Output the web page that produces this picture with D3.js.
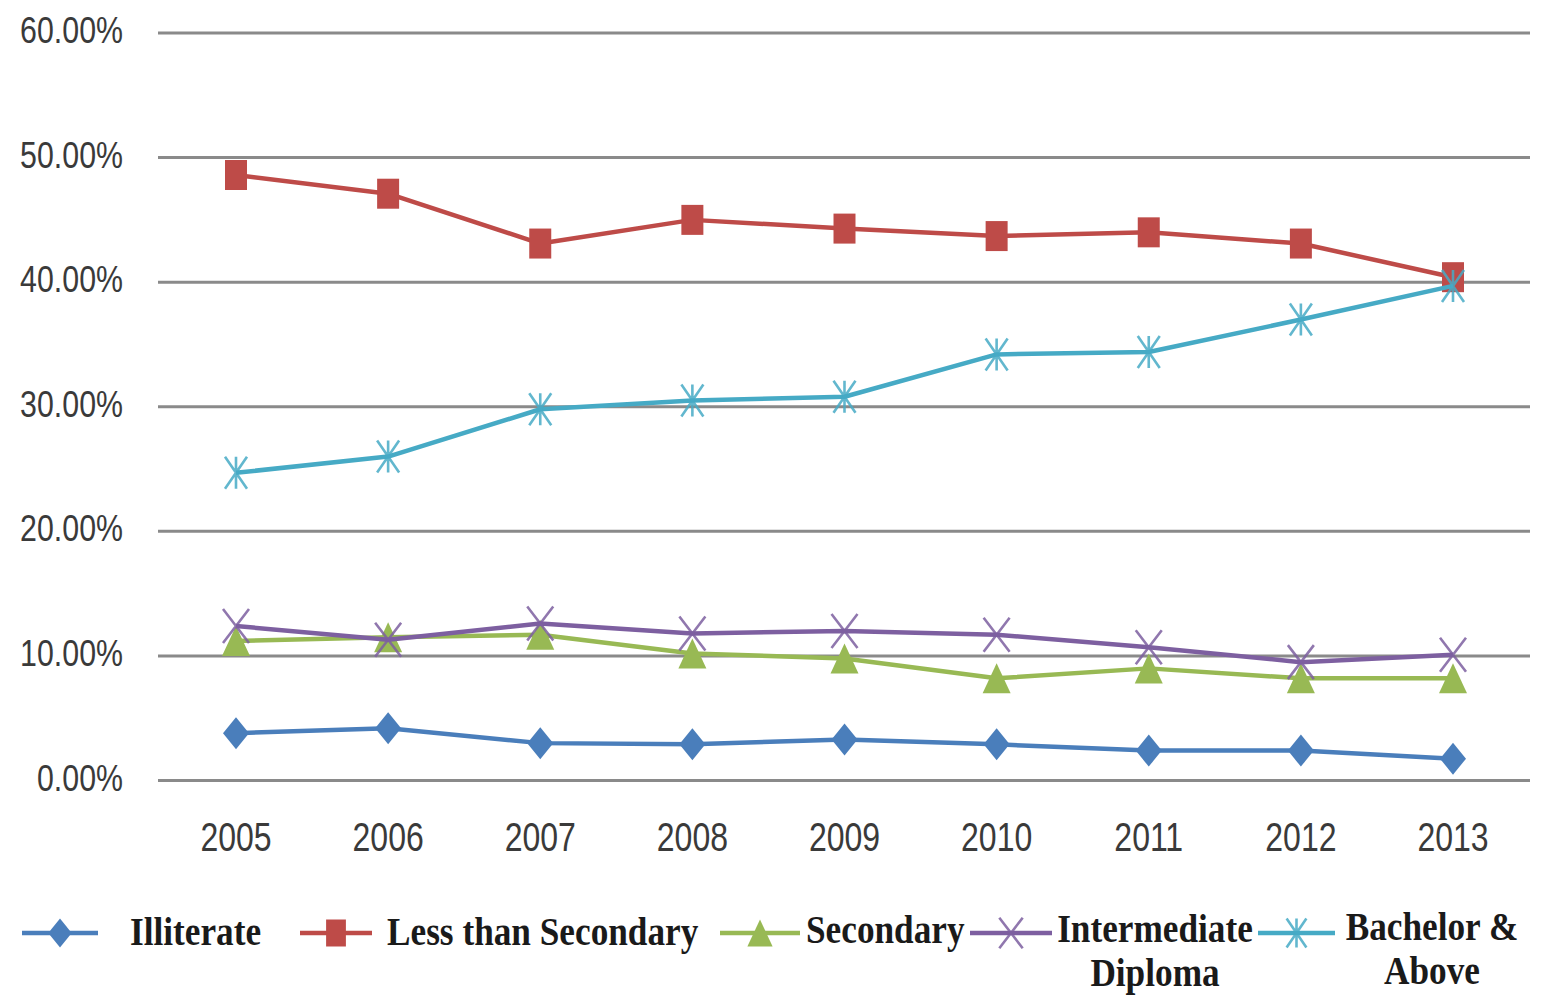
<!DOCTYPE html>
<html><head><meta charset="utf-8">
<script src="https://cdn.jsdelivr.net/npm/d3@7"></script>
<style>body{margin:0;background:#fff}svg{display:block}</style>
</head><body>
<svg id="c" width="1541" height="996"></svg>
<script>
const years = ["2005","2006","2007","2008","2009","2010","2011","2012","2013"];
const yTicks = [0, 0.1, 0.2, 0.3, 0.4, 0.5, 0.6];
const seriesNames = ["Illiterate","Less than Secondary","Secondary","Intermediate Diploma","Bachelor & Above"];
const illiterate    = [0.038,0.042,0.030,0.029,0.033,0.029,0.024,0.024,0.0175];
const lessThanSec   = [0.486,0.471,0.431,0.450,0.443,0.437,0.440,0.431,0.404];
const secondary     = [0.112,0.115,0.117,0.102,0.098,0.082,0.090,0.082,0.082];
const intermediate  = [0.124,0.113,0.126,0.118,0.120,0.117,0.107,0.095,0.101];
const bachelor      = [0.247,0.260,0.298,0.305,0.308,0.342,0.344,0.370,0.397];

const colors = ["#4a7ebb","#be4b48","#98b954","#7d5fa0","#46aac5"];
const markerTypes = ["diamond","square","triangle","x","star"];
const values = [illiterate, lessThanSec, secondary, intermediate, bachelor];

const svg = d3.select("#c");
const x = d3.scalePoint().domain(years).range([236, 1453]);
const y = d3.scaleLinear().domain([0, 0.6]).range([780.5, 33]);
const plotL = 158, plotR = 1530;

svg.append("g").selectAll("line").data(yTicks).join("line")
  .attr("x1", plotL).attr("x2", plotR)
  .attr("y1", d => y(d)).attr("y2", d => y(d))
  .attr("stroke", "#8a8a8a").attr("stroke-width", 3);

const fmt = d3.format(".2%");
svg.append("g").selectAll("text").data(yTicks).join("text")
  .attr("transform", d => `translate(123,${y(d) + 10}) scale(0.82,1)`)
  .attr("text-anchor", "end")
  .attr("font-family", "Liberation Sans, Arial, sans-serif")
  .attr("font-size", 37).attr("fill", "#3a3a3a")
  .text(d => fmt(d));

svg.append("g").selectAll("text").data(years).join("text")
  .attr("transform", d => `translate(${x(d)},851) scale(0.8,1)`)
  .attr("text-anchor", "middle")
  .attr("font-family", "Liberation Sans, Arial, sans-serif")
  .attr("font-size", 40).attr("fill", "#3a3a3a")
  .text(d => d);

function markerPath(type, s) {
  const p = d3.path();
  if (type === "diamond") {
    const w = 13*s, h = 16*s;
    p.moveTo(0,-h); p.lineTo(w,0); p.lineTo(0,h); p.lineTo(-w,0); p.closePath();
  } else if (type === "square") {
    const w = 11*s, h = 15*s;
    p.rect(-w,-h,2*w,2*h);
  } else if (type === "triangle") {
    const w = 14*s, h = 15*s;
    p.moveTo(0,-h); p.lineTo(w,h); p.lineTo(-w,h); p.closePath();
  } else if (type === "x") {
    const w = 13*s, h = 17*s;
    p.moveTo(-w,-h); p.lineTo(w,h); p.moveTo(w,-h); p.lineTo(-w,h);
  } else if (type === "star") {
    const w = 11*s, h = 16*s;
    p.moveTo(-w,-h); p.lineTo(w,h); p.moveTo(w,-h); p.lineTo(-w,h);
    p.moveTo(0,-h); p.lineTo(0,h);
  }
  return p.toString();
}
function drawMarker(g, type, color, s) {
  const path = g.append("path").attr("d", markerPath(type, s));
  if (type === "x" || type === "star") {
    path.attr("fill","none").attr("stroke", color).attr("stroke-width", 2.6).attr("stroke-opacity", 0.85);
  } else {
    path.attr("fill", color).attr("stroke","none");
  }
}

const line = d3.line().x((d,i) => x(years[i])).y(d => y(d));
values.forEach((vals, si) => {
  const g = svg.append("g");
  g.append("path").datum(vals).attr("d", line)
    .attr("fill","none").attr("stroke", colors[si]).attr("stroke-width", 4.5)
    .attr("stroke-linejoin","round");
  vals.forEach((v, i) => {
    const mg = g.append("g").attr("transform", `translate(${x(years[i])},${y(v)})`);
    drawMarker(mg, markerTypes[si], colors[si], 1);
  });
});

const legend = [
  {x1:22, x2:98, tx:130, anchor:"start", lines:["Illiterate"], by:945},
  {x1:300, x2:372, tx:387, anchor:"start", lines:["Less than Secondary"], by:945},
  {x1:720, x2:800, tx:806, anchor:"start", lines:["Secondary"], by:943},
  {x1:970, x2:1052, tx:1155, anchor:"middle", lines:["Intermediate","Diploma"], by:942},
  {x1:1258, x2:1335, tx:1432, anchor:"middle", lines:["Bachelor &","Above"], by:940}
];
legend.forEach((L, si) => {
  const g = svg.append("g");
  const ly = 933;
  g.append("line").attr("x1", L.x1).attr("x2", L.x2).attr("y1", ly).attr("y2", ly)
    .attr("stroke", colors[si]).attr("stroke-width", 4.5);
  const mg = g.append("g").attr("transform", `translate(${(L.x1+L.x2)/2},${ly})`);
  drawMarker(mg, markerTypes[si], colors[si], 0.9);
  L.lines.forEach((t, k) => {
    g.append("text")
      .attr("transform", `translate(${L.tx},${L.by + k*44}) scale(0.86,1)`)
      .attr("text-anchor", L.anchor)
      .attr("font-family", "Liberation Serif, Times New Roman, serif")
      .attr("font-weight", "bold").attr("font-size", 41).attr("fill", "#1a1a1a")
      .text(t);
  });
});
</script>
</body></html>
